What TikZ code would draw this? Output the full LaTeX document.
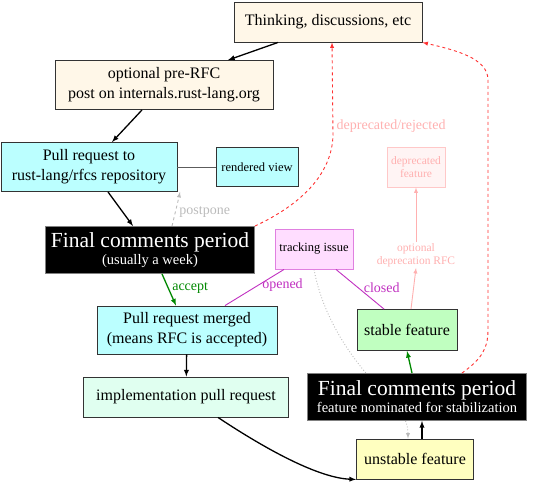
\documentclass[tikz,border=0pt]{standalone}
\usepackage{fontspec}
\setmainfont{Liberation Serif}
\usepackage{tikz}
\usetikzlibrary{arrows,shapes,positioning,backgrounds}
\usepackage{xcolor}
\definecolor{rfcwheat}{RGB}{255,247,232}
\definecolor{rfccyan}{RGB}{187,255,255}
\definecolor{rfcmint}{RGB}{224,255,240}
\definecolor{rfcgreen}{RGB}{192,255,192}
\definecolor{rfcyellow}{RGB}{255,255,192}
\definecolor{rfcpink}{RGB}{255,221,255}
\definecolor{rfcviolet}{RGB}{224,128,224}
\definecolor{rfcmagenta}{RGB}{192,48,192}
\definecolor{rfcfaded}{RGB}{255,176,176}
\definecolor{rfcfadedfill}{RGB}{255,244,244}
\definecolor{rfcred}{RGB}{255,48,48}
\definecolor{rfcgray}{RGB}{187,187,187}
\definecolor{rfcaccept}{RGB}{0,136,0}
\definecolor{rfcborder}{RGB}{51,51,51}
\tikzstyle{arrow} = [line width=1.3pt,->,>=latex]
\tikzstyle{stage} = [rectangle, draw=rfcborder, line width=0.9pt, align=center, inner sep=2pt, font=\fontsize{16}{20}\selectfont]
\tikzstyle{fcp} = [rectangle, draw=gray, fill=black, text=white, line width=0.9pt, align=center, inner sep=2pt, font=\fontsize{14.5}{17}\selectfont]
\tikzstyle{elabel} = [font=\fontsize{14}{16}\selectfont]

\begin{document}
\begin{tikzpicture}[x=1pt, y=-1pt]
    \useasboundingbox (0,0) rectangle (533,485);
    % RFC process
    \node[stage, fill=rfcwheat, minimum width=188pt, minimum height=40pt] (think) at (328, 22) {Thinking, discussions, etc};
    \node[stage, fill=rfcwheat, minimum width=218pt, minimum height=49pt] (prerfc) at (164, 85) {optional pre-RFC\\post on internals.rust-lang.org};
    \node[stage, fill=rfccyan, minimum width=176pt, minimum height=49pt] (prq) at (89, 167) {Pull request to\\rust-lang/rfcs repository};
    \node[stage, fill=rfccyan, minimum width=82pt, minimum height=39pt, font=\fontsize{12.5}{14}\selectfont] (rendered) at (257, 167) {rendered view};
    \node[fcp, minimum width=209pt, minimum height=47pt] (fcp1) at (150, 250) {{\fontsize{21.5}{21}\selectfont Final comments period}\\(usually a week)};
    \node[stage, fill=rfccyan, minimum width=180pt, minimum height=48pt] (merged) at (187, 330) {Pull request merged\\(means RFC is accepted)};
    \node[stage, fill=rfcmint, minimum width=205pt, minimum height=40pt] (impl) at (186, 397) {implementation pull request};

    % feature lifecycle
    \node[stage, fill=rfcpink, draw=rfcviolet, minimum width=78pt, minimum height=40pt, font=\fontsize{12.5}{14}\selectfont] (tracking) at (314, 249) {tracking issue};
    \node[stage, fill=rfcyellow, minimum width=117pt, minimum height=40pt] (unstable) at (415, 459) {unstable feature};
    \node[fcp, minimum width=219pt, minimum height=47pt] (fcp2) at (417, 397) {{\fontsize{21.5}{21}\selectfont Final comments period}\\feature nominated for stabilization};
    \node[stage, fill=rfcgreen, minimum width=100pt, minimum height=41pt] (stable) at (407, 330) {stable feature};
    \node[text=rfcfaded, align=center, font=\fontsize{11.5}{13}\selectfont, inner sep=1pt] (deprfc) at (416, 255) {optional\\deprecation RFC};
    \node[stage, fill=rfcfadedfill, draw=rfcfaded!70, text=rfcfaded, minimum width=58pt, minimum height=40pt, font=\fontsize{11.5}{13}\selectfont] (deprecated) at (416, 167) {deprecated\\feature};

    \draw[arrow] ([xshift=-50pt]think.south) -- ([xshift=64pt]prerfc.north);
    \draw[arrow] ([xshift=-22pt]prerfc.south) -- ([xshift=23pt]prq.north);
    \draw[rfcborder!80, line width=0.9pt] (prq) -- (rendered);
    \draw[arrow] ([xshift=19pt]prq.south) -- ([xshift=-17pt]fcp1.north);
    \draw[arrow, line width=0.9pt, rfcgray, dashed] ([xshift=22pt]fcp1.north) .. controls (176,212) .. node[elabel, right, text=rfcgray, pos=0.45] {postpone} ([xshift=91pt]prq.south);
    \draw[arrow, line width=0.9pt, rfcred, dashed] (fcp1.north east) .. controls (300,205) and (332,175) .. (333,135) -- node[elabel, right, text=rfcfaded, pos=0.1] {deprecated/rejected} ([xshift=4pt]think.south);
    \draw[arrow, rfcaccept] ([xshift=12pt]fcp1.south) -- node[elabel, right, pos=0.45] {accept} ([xshift=-11pt]merged.north);
    \draw[arrow] (merged) -- (impl);
    \draw[arrow] ([xshift=32pt]impl.south) .. controls (270,452) and (320,478) .. (unstable.south west);

    \draw[rfcmagenta, line width=0.9pt] ([xshift=-30pt]tracking.south) -- node[elabel, right, xshift=4pt, yshift=2pt] {opened} ([xshift=38pt]merged.north);
    \draw[rfcmagenta, line width=0.9pt] ([xshift=22pt]tracking.south) -- node[elabel, right, xshift=0pt, yshift=2pt] {closed} ([xshift=-23pt]stable.north);
    \begin{pgfonlayer}{background}
        \draw[arrow, line width=0.9pt, rfcgray, dotted] (tracking.south) .. controls (322,312) and (345,350) .. (372,380) .. controls (400,405) and (408,420) .. ([xshift=-7pt]unstable.north);
    \end{pgfonlayer}
    \draw[arrow] ([xshift=7pt]unstable.north) -- ([xshift=5pt]fcp2.south);
    \draw[arrow, rfcaccept] ([xshift=-5pt]fcp2.north) -- (stable.south);
    \draw[arrow, line width=0.9pt, rfcfaded] ([xshift=4pt]stable.north) -- (deprfc.south);
    \draw[arrow, line width=0.9pt, rfcfaded] (deprfc.north) -- (deprecated.south);
    \draw[arrow, line width=0.9pt, rfcred, dashed] ([xshift=45pt]fcp2.north) .. controls (480,360) and (488,350) .. (488,330) -- (488,80) .. controls (488,58) and (455,50) .. (think.south east);
\end{tikzpicture}
\end{document}
